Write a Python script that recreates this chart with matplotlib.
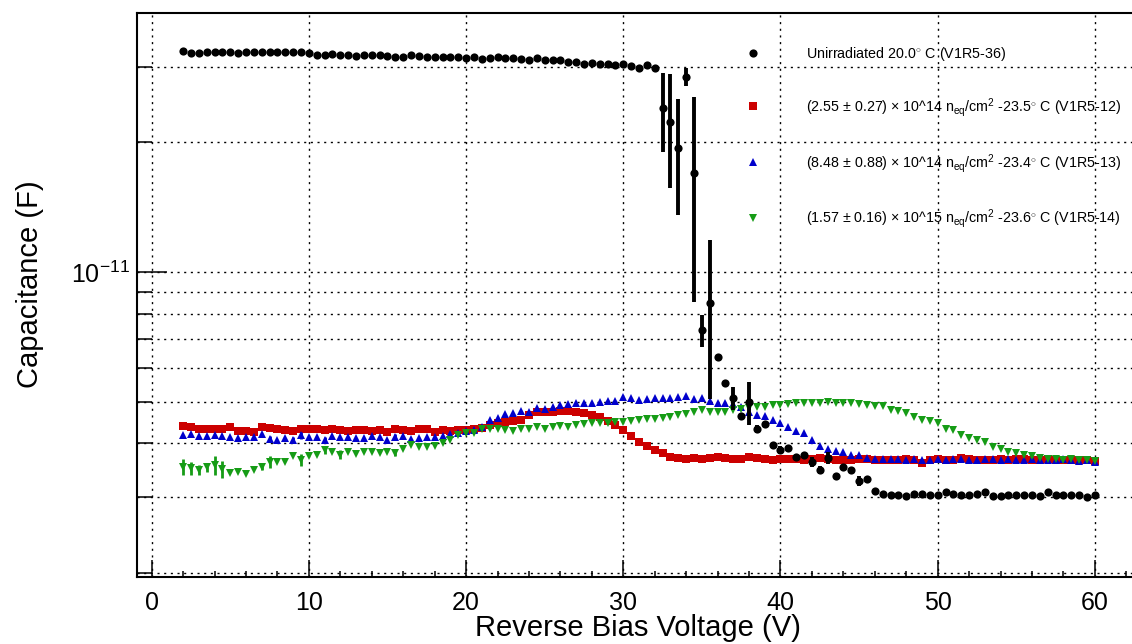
import numpy as np
import matplotlib
matplotlib.use('Agg')
import matplotlib.pyplot as plt
from matplotlib.ticker import LogLocator, NullFormatter, MultipleLocator

plt.rcParams['font.family'] = ['Liberation Sans', 'DejaVu Sans']
plt.rcParams['mathtext.fontset'] = 'custom'
plt.rcParams['mathtext.rm'] = 'Liberation Sans'
plt.rcParams['mathtext.it'] = 'Liberation Sans:italic'
plt.rcParams['mathtext.bf'] = 'Liberation Sans:bold'

pF = 1e-12

# bias sweep, 2 V to 60 V in 0.5 V steps
voltage = np.arange(2.0, 60.5, 0.5)

# capacitance in pF
unirr = [32.6, 32.3, 32.2, 32.5, 32.4, 32.5, 32.4, 32.3, 32.5, 32.5,
         32.4, 32.5, 32.5, 32.5, 32.4, 32.4, 32.2, 31.9, 32.0, 32.1,
         32.0, 31.9, 31.7, 31.9, 31.9, 31.9, 31.7, 31.5, 31.5, 31.9,
         31.7, 31.6, 31.5, 31.5, 31.5, 31.5, 31.4, 31.6, 31.2, 31.4,
         31.5, 31.4, 31.4, 31.2, 31.0, 31.4, 31.0, 31.0, 31.0, 30.8,
         30.8, 30.5, 30.6, 30.5, 30.4, 30.2, 30.4, 30.1, 29.8, 30.2,
         29.7,
         24.0, 22.3, 19.4, 28.4, 17.0, 7.33, 8.47, 6.35, 5.52, 5.10,
         4.63, 4.99, 4.32, 4.44, 3.97, 3.86, 3.90, 3.72, 3.76, 3.62,
         3.47, 3.70, 3.36, 3.53, 3.47, 3.27, 3.31, 3.10,
         3.05, 3.04, 3.03, 3.02, 3.05, 3.05, 3.03, 3.04, 3.08, 3.05,
         3.03, 3.03, 3.05, 3.08, 3.02, 3.02, 3.03, 3.04, 3.04, 3.03,
         3.02, 3.08, 3.04, 3.04, 3.04, 3.04, 3.01, 3.03]

irr_12 = [4.39, 4.36, 4.32, 4.31, 4.33, 4.32, 4.37, 4.28, 4.28, 4.26,
          4.37, 4.35, 4.33, 4.30, 4.28, 4.33, 4.33, 4.33, 4.30, 4.31,
          4.30, 4.28, 4.30, 4.30, 4.28, 4.30, 4.26, 4.31, 4.30, 4.28,
          4.33, 4.33, 4.26, 4.30, 4.28, 4.30, 4.30,
          4.31, 4.34, 4.41, 4.45, 4.48, 4.50, 4.52, 4.65, 4.72, 4.74,
          4.74, 4.76, 4.76, 4.74, 4.70, 4.65, 4.60, 4.50, 4.41, 4.30,
          4.17, 4.03, 3.94, 3.86, 3.80, 3.72, 3.70,
          3.68, 3.69, 3.68, 3.70, 3.72, 3.70, 3.68, 3.68, 3.72, 3.70,
          3.68, 3.65, 3.68, 3.68, 3.68, 3.66, 3.68, 3.70, 3.68, 3.66,
          3.66, 3.66, 3.68, 3.68, 3.65, 3.65, 3.66, 3.66, 3.67, 3.66,
          3.61, 3.66, 3.67, 3.66, 3.65, 3.69, 3.68, 3.66, 3.65, 3.66,
          3.67, 3.66, 3.68, 3.67, 3.66, 3.66, 3.67, 3.66, 3.66, 3.65,
          3.66, 3.65, 3.63]

irr_13 = [4.18, 4.20, 4.16, 4.16, 4.18, 4.16, 4.14, 4.11, 4.14, 4.13,
          4.20, 4.09, 4.07, 4.11, 4.07, 4.18, 4.13, 4.13, 4.07, 4.16,
          4.13, 4.13, 4.11, 4.11, 4.16, 4.14, 4.07, 4.14, 4.16, 4.09,
          4.11, 4.13, 4.13, 4.16, 4.20, 4.22, 4.28,
          4.30, 4.37, 4.53, 4.57, 4.68, 4.70, 4.76, 4.74, 4.83, 4.80,
          4.86, 4.91, 4.94, 4.95, 4.95, 4.97, 5.00, 5.02, 5.02, 5.12,
          5.09, 5.05, 5.06, 5.09, 5.09, 5.09, 5.13, 5.15, 5.06, 5.09,
          5.02, 4.97, 4.95, 4.94, 4.85, 4.74, 4.65, 4.63, 4.53, 4.47,
          4.36, 4.27, 4.22, 4.07, 3.94, 3.89, 3.84, 3.82, 3.76, 3.76,
          3.70,
          3.68, 3.68, 3.67, 3.67, 3.66, 3.68, 3.66, 3.66, 3.67, 3.66,
          3.67, 3.68, 3.66, 3.66, 3.67, 3.67, 3.66, 3.67, 3.66, 3.66,
          3.67, 3.66, 3.65, 3.66, 3.67, 3.66, 3.64, 3.65, 3.62]

irr_14 = [3.52, 3.50, 3.47, 3.52, 3.56, 3.48, 3.41, 3.44, 3.40, 3.46,
          3.52, 3.62, 3.62, 3.62, 3.74, 3.66, 3.74, 3.76, 3.86, 3.82,
          3.76, 3.82, 3.78, 3.82, 3.82, 3.80, 3.82, 3.79, 3.89, 3.97,
          3.93, 3.93, 3.94, 4.00, 4.07, 4.18, 4.23,
          4.23, 4.33, 4.33, 4.31, 4.30, 4.28, 4.31, 4.33, 4.37, 4.33,
          4.37, 4.39, 4.37, 4.41, 4.44, 4.45, 4.47, 4.47, 4.49, 4.49,
          4.51, 4.53, 4.55, 4.55, 4.57, 4.60, 4.65, 4.68, 4.74, 4.78,
          4.74, 4.74, 4.74, 4.78, 4.81, 4.83, 4.85, 4.86, 4.91, 4.91,
          4.94, 4.95, 4.97, 4.95, 4.97, 5.00, 4.97, 4.97, 4.95, 4.94,
          4.91, 4.88, 4.88, 4.78, 4.76, 4.70, 4.61, 4.53, 4.51, 4.45,
          4.33, 4.30, 4.18, 4.11, 4.07, 4.02, 3.92, 3.89, 3.82, 3.80,
          3.76, 3.74, 3.70, 3.68, 3.68, 3.66, 3.68, 3.66, 3.65, 3.63]

# visible error bars (pF), by bias voltage
unirr_err_v = [32.5, 33, 33.5, 34, 34.5, 35, 35.5, 37, 38, 38.5, 40, 42, 42.5, 43, 45]
unirr_err = [5.0, 6.6, 5.8, 1.3, 8.5, 0.63, 3.4, 0.31, 0.57, 0.10, 0.08, 0.10, 0.08, 0.12, 0.09]
irr_13_err_v = [7.5, 9, 9.5, 11, 15.5]
irr_13_err = [0.07, 0.06, 0.08, 0.06, 0.06]
irr_14_err_v = [2, 2.5, 3, 3.5, 4, 4.5, 7, 7.5, 9.5, 11, 12, 15.5]
irr_14_err = [0.15, 0.12, 0.10, 0.09, 0.18, 0.15, 0.06, 0.12, 0.12, 0.09, 0.09, 0.06]

labels = [r'Unirradiated 20.0$^{\circ}$ C (V1R5-36)',
          r'(2.55 $\pm$ 0.27) $\times$ 10^14 n$_{\mathrm{eq}}$/cm$^{2}$ -23.5$^{\circ}$ C (V1R5-12)',
          r'(8.48 $\pm$ 0.88) $\times$ 10^14 n$_{\mathrm{eq}}$/cm$^{2}$ -23.4$^{\circ}$ C (V1R5-13)',
          r'(1.57 $\pm$ 0.16) $\times$ 10^15 n$_{\mathrm{eq}}$/cm$^{2}$ -23.6$^{\circ}$ C (V1R5-14)']


def pick(values, err_v):
    idx = np.searchsorted(voltage, err_v)
    return voltage[idx], np.array(values)[idx]


def main():
    fig = plt.figure(figsize=(11.32, 6.44), dpi=100)
    ax = fig.add_axes([137 / 1132, 67 / 644, 995 / 1132, 564 / 644])

    red, blue, green = '#cc0000', '#0000cc', '#169c16'

    ax.plot(voltage, np.array(irr_12) * pF, 's', color=red, ms=5.8, mew=0, zorder=3)
    ex, ey = pick(irr_13, irr_13_err_v)
    ax.errorbar(ex, ey * pF, yerr=np.array(irr_13_err) * pF, fmt='none',
                ecolor=blue, elinewidth=2, capsize=0, zorder=3.5)
    ax.plot(voltage, np.array(irr_13) * pF, '^', color=blue, ms=6.3, mew=0, zorder=4)
    ex, ey = pick(irr_14, irr_14_err_v)
    ax.errorbar(ex, ey * pF, yerr=np.array(irr_14_err) * pF, fmt='none',
                ecolor=green, elinewidth=2, capsize=0, zorder=4.5)
    ax.plot(voltage, np.array(irr_14) * pF, 'v', color=green, ms=6.3, mew=0, zorder=5)
    ex, ey = pick(unirr, unirr_err_v)
    ax.errorbar(ex, ey * pF, yerr=np.array(unirr_err) * pF, fmt='none',
                ecolor='black', elinewidth=2.8, capsize=0, zorder=5.5)
    ax.plot(voltage, np.array(unirr) * pF, 'o', color='black', ms=5.9, mew=0, zorder=6)

    ax.set_yscale('log')
    ax.set_xlim(-0.935, 62.36)
    ax.set_ylim(1.957e-12, 3.996e-11)

    ax.xaxis.set_major_locator(MultipleLocator(10))
    ax.xaxis.set_minor_locator(MultipleLocator(2))
    ax.yaxis.set_major_locator(LogLocator(base=10))
    ax.yaxis.set_minor_locator(LogLocator(base=10, subs=np.arange(2, 10)))
    ax.yaxis.set_minor_formatter(NullFormatter())

    ax.tick_params(axis='both', which='both', direction='in', width=1.1,
                   labelsize=18, color='black')
    ax.tick_params(axis='x', which='major', length=12.2, pad=10)
    ax.tick_params(axis='x', which='minor', length=4.5)
    ax.tick_params(axis='y', which='major', length=21.6, pad=5)
    ax.tick_params(axis='y', which='minor', length=10.8)

    for side in ['left', 'bottom', 'top']:
        ax.spines[side].set_linewidth(1.5)
    ax.spines['right'].set_visible(False)

    grid_kw = dict(color='black', linewidth=1.0, linestyle=(0, (1.5, 3.3)))
    ax.grid(True, axis='x', which='major', **grid_kw)
    ax.grid(True, axis='y', which='both', **grid_kw)
    ax.set_axisbelow(True)

    ax.set_xlabel('Reverse Bias Voltage (V)', fontsize=21)
    ax.xaxis.set_label_coords(0.503, -0.066)
    ax.set_ylabel('Capacitance (F)', fontsize=21)
    ax.yaxis.set_label_coords(-0.093, 0.52)

    handles = ax.get_lines()
    order = [3, 0, 1, 2]
    ax.legend([handles[i] for i in order], labels, loc='upper left',
              bbox_to_anchor=(738.7 / 1132, 1 - 45 / 644), bbox_transform=fig.transFigure,
              frameon=False, fontsize=10.3, handlelength=2.0, handletextpad=2.7,
              labelspacing=2.3, borderpad=0, borderaxespad=0, numpoints=1)

    fig.savefig('out.png', dpi=100, facecolor='white')


if __name__ == "__main__":
    main()
